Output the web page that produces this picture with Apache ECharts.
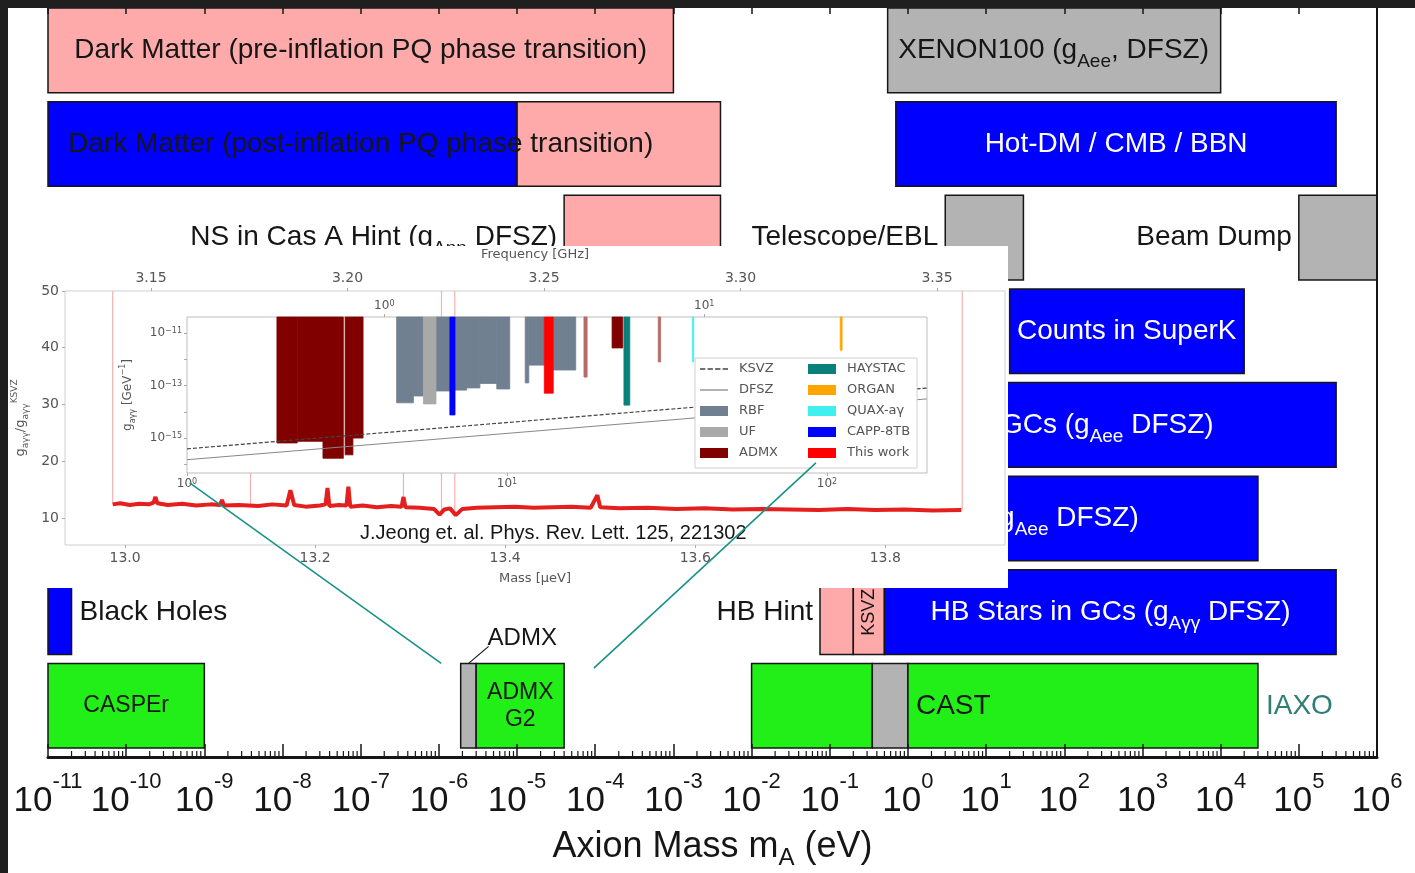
<!DOCTYPE html>
<html>
<head>
<meta charset="utf-8">
<title>Axion mass ranges</title>
<script src="https://cdn.jsdelivr.net/npm/echarts@6/dist/echarts.min.js"></script>
<style>
  html, body { margin: 0; padding: 0; background: #1f1f1f; }
  #chart { width: 1415px; height: 873px; }
</style>
</head>
<body>
<div id="chart"></div>
<script>
// ---------- main figure: axion mass ranges (eV), rows counted from the top ----------
const barStart = [1e-11, 0.55, 1e-11, 1e-5, 0.7, 4e-5, 3, 1e5, 20, 0.05, 1e-3, 1e-11, 0.075, 0.2, 0.5, 1e-11, 1.9e-6, 3e-6, 1e-2, 0.35, 1.0];
const barEnd   = [1e-3, 1e4, 1e-5, 4e-3, 3e5, 4e-3, 30, 1e6, 2e4, 3e5, 3e4, 2e-11, 0.2, 0.5, 3e5, 1e-9, 3e-6, 4e-5, 0.35, 1.0, 3e4];
const barRow   = [0, 0, 1, 1, 1, 2, 2, 2, 3, 4, 5, 6, 6, 6, 6, 7, 7, 7, 7, 7, 7];
const barKind  = ['pink', 'gray', 'blue', 'pink', 'blue', 'pink', 'gray', 'gray', 'blue', 'blue', 'blue',
                  'blue', 'pink', 'pink', 'blue', 'green', 'gray', 'green', 'green', 'gray', 'green'];

const labelText = [
  'Dark Matter (pre-inflation PQ phase transition)',
  'XENON100 (g{s|Aee}, DFSZ)',
  'Dark Matter (post-inflation PQ phase transition)',
  'Hot-DM / CMB / BBN',
  'NS in Cas A Hint (g{s|Ann} DFSZ)',
  'Telescope/EBL',
  'Beam Dump',
  'Counts in SuperK',
  'RGs in GCs (g{s|Aee} DFSZ)',
  'WD cooling hint (g{s|Aee} DFSZ)',
  'Black Holes',
  'HB Hint',
  'KSVZ',
  'HB Stars in GCs (g{s|Aγγ} DFSZ)',
  'CASPEr',
  'ADMX',
  'ADMX\nG2',
  'CAST',
  'IAXO'
];
const labelAt    = [1e-7, 73, 1e-7, 460, 4e-5, 3, 1e5, 630, 1e4, 1.1e3, 2e-11, 0.075, 0.32, 390, 1e-10, 2.4e-6, 1.1e-5, 1.0, 3e4];
const labelRow   = [0, 0, 1, 1, 2, 2, 2, 3, 4, 5, 6, 6, 6, 6, 7, 7, 7, 7, 7];
const labelAlign = ['center', 'center', 'center', 'center', 'right', 'right', 'right', 'center', 'right', 'right',
                    'left', 'right', 'vertical', 'center', 'small', 'leader', 'small', 'left', 'left'];
const labelTone  = ['dark', 'dark', 'dark', 'white', 'dark', 'dark', 'dark', 'white', 'white', 'white',
                    'dark', 'dark', 'dark', 'white', 'dark', 'dark', 'dark', 'dark', 'iaxo'];

// ---------- inset: J. Jeong et al. haloscope limit ----------
const MUEV_PER_GHZ = 4.135667;
const limitCurve = [
  [12.987, 12.4], [12.995, 12.6], [13.005, 12.3], [13.015, 12.5], [13.025, 12.4], [13.030, 12.7], [13.032, 13.7],
  [13.034, 12.6], [13.045, 12.3], [13.060, 12.5], [13.075, 12.2], [13.090, 12.4], [13.100, 12.3], [13.102, 13.2],
  [13.104, 12.2], [13.120, 12.3], [13.140, 12.1], [13.155, 12.4], [13.170, 12.2], [13.174, 14.9], [13.178, 12.3],
  [13.190, 12.0], [13.205, 12.2], [13.211, 12.4], [13.213, 15.3], [13.215, 12.1], [13.225, 12.3], [13.233, 12.2],
  [13.235, 15.5], [13.237, 12.0], [13.250, 12.2], [13.265, 11.9], [13.280, 12.1], [13.291, 12.0], [13.293, 13.7],
  [13.295, 11.9], [13.310, 11.8], [13.325, 11.6], [13.331, 10.6], [13.336, 11.5], [13.342, 11.7], [13.348, 10.5],
  [13.355, 11.6], [13.370, 11.8], [13.390, 11.9], [13.410, 12.0], [13.430, 11.8], [13.450, 11.9], [13.470, 12.0],
  [13.490, 11.8], [13.497, 14.0], [13.500, 11.9], [13.520, 11.7], [13.550, 11.8], [13.580, 11.6], [13.610, 11.7],
  [13.640, 11.5], [13.670, 11.6], [13.700, 11.5], [13.730, 11.4], [13.760, 11.6], [13.790, 11.4], [13.820, 11.5],
  [13.850, 11.3], [13.880, 11.4]
];
// unscanned / excluded steps drawn as faint verticals: [mass, from, to]
const gapLines = [[12.987, 12.4, 50], [13.132, 12.2, 18.5], [13.293, 12.0, 18.5], [13.333, 10.6, 50], [13.347, 10.5, 50], [13.881, 11.4, 50]];

// nested log-log panel: [mass start (μeV), mass end, g_aγγ limit (GeV^-1)]
const rbfRegions   = [[4.52, 5.10, 2.2e-14], [5.10, 5.48, 4.0e-14], [6.0, 6.63, 6.2e-14], [6.88, 7.48, 6.7e-14],
                      [7.48, 8.23, 8.1e-14], [8.23, 9.29, 1.2e-13], [9.29, 10.2, 7.4e-14], [11.4, 11.7, 1.26e-13],
                      [11.7, 13.08, 6.0e-13], [13.95, 16.4, 3.9e-13]];
const ufRegions    = [[5.48, 6.0, 2.0e-14]];
const admxRegions  = [[1.91, 2.21, 6.5e-16], [2.21, 2.66, 7.5e-16], [2.66, 3.08, 1.7e-16], [3.12, 3.30, 2.3e-16],
                      [3.30, 3.55, 1.0e-15], [21.3, 23.0, 2.7e-12]];
const admxFaintRegions = [[17.4, 17.8, 2.1e-13], [29.7, 30.2, 7.9e-13]];
const haystacRegions = [[23.2, 24.2, 1.8e-14]];
const organRegions = [[110, 111.5, 2.2e-12]];
const quaxRegions  = [[38.0, 38.3, 8e-13]];
const cappRegions  = [[6.63, 6.88, 7.6e-15]];
const thisWorkRegions = [[13.08, 13.95, 5.1e-14]];
const ksvzLine = [[1, 3.9e-16], [205, 8.0e-14]];
const dfszLine = [[1, 1.5e-16], [205, 3.1e-14]];

// zoom connectors: main-figure point (eV, row units) -> inset point (μeV, ratio)
const linkMain  = [[1.07e-6, 1.0], [9.6e-5, 0.95]];
const linkInset = [[13.068, 16.2], [13.727, 19.7]];

const FONT = "'Liberation Sans', Arial, sans-serif";
const MPL = "'DejaVu Sans', sans-serif";
const INK = '#161616';
const kindColor = {pink: '#ffaaaa', blue: '#0000ff', gray: '#b3b3b3', green: '#22ee18'};
const toneColor = {dark: INK, white: '#ffffff', iaxo: '#2f7e76'};
const BAR_LOW = 0.095, BAR_MID = 0.547;
const NEST_TOP = -10.39, NEST_BOTTOM = -16.33;
const lg = Math.log10;

// minor tick marks of the logarithmic mass axis (2..9 within each decade)
const minorTicks = [];
for (let e = -11; e < 6; e++) {
  for (let k = 2; k <= 9; k++) minorTicks.push([lg(k) + e, 0]);
}

const RICH = {s: {fontSize: 19, lineHeight: 19, verticalAlign: 'bottom', fontFamily: FONT}};

function renderBar(params, api) {
  const i = params.dataIndex;
  const v = api.value(2);
  const a = api.coord([api.value(0), v + 1]);
  const b = api.coord([api.value(1), v + BAR_LOW]);
  return {
    type: 'rect',
    shape: {x: a[0], y: a[1], width: b[0] - a[0], height: b[1] - a[1]},
    style: {fill: kindColor[barKind[i]], stroke: INK, lineWidth: 1.5}
  };
}

function renderLabel(params, api) {
  const i = params.dataIndex;
  const mode = labelAlign[i];
  const pt = api.coord([api.value(0), api.value(1)]);
  const style = {
    text: labelText[i], fill: toneColor[labelTone[i]], fontFamily: FONT,
    fontSize: 28, lineHeight: 42, rich: RICH, align: 'center', verticalAlign: 'middle'
  };
  if (mode === 'vertical') {
    style.fontSize = 18; style.lineHeight = 20;
    return {type: 'text', x: pt[0], y: pt[1], rotation: Math.PI / 2, style: style};
  }
  if (mode === 'leader') {
    const top = api.coord([api.value(0), 7 - labelRow[i] + 1]);
    style.fontSize = 24; style.lineHeight = 28; style.align = 'left';
    return {
      type: 'group',
      children: [
        {type: 'line', shape: {x1: top[0], y1: top[1], x2: top[0] + 20, y2: top[1] - 17}, style: {stroke: INK, lineWidth: 1.2}},
        {type: 'text', x: top[0] + 19, y: top[1] - 25, style: style}
      ]
    };
  }
  if (mode === 'small') { style.fontSize = 23; style.lineHeight = 27; }
  if (mode === 'right') { style.align = 'right'; pt[0] -= 7; }
  if (mode === 'left') { style.align = 'left'; pt[0] += 8; }
  return {type: 'text', x: pt[0], y: pt[1], style: style};
}

function renderMinorTick(params, api) {
  const p = api.coord([api.value(0), 0]);
  return {type: 'line', shape: {x1: p[0], y1: p[1], x2: p[0], y2: p[1] - 6}, style: {stroke: INK, lineWidth: 1.2}};
}

function renderGap(params, api) {
  const a = api.coord([api.value(0), api.value(1)]);
  const b = api.coord([api.value(0), api.value(2)]);
  return {type: 'line', shape: {x1: a[0], y1: a[1], x2: b[0], y2: b[1]}, style: {stroke: '#f3b0b0', lineWidth: 1.2}};
}

function renderRegion(params, api) {
  const a = api.coord([api.value(0), NEST_TOP]);
  const b = api.coord([api.value(1), lg(api.value(2))]);
  const c = api.visual('color');
  return {
    type: 'rect',
    shape: {x: a[0], y: a[1], width: Math.max(b[0] - a[0], 1.2), height: b[1] - a[1]},
    style: {fill: c, stroke: c, lineWidth: 0.8}
  };
}

function regionSeries(name, color, data) {
  return {
    name: name, type: 'custom', xAxisIndex: 4, yAxisIndex: 2, zlevel: 1, z: 6,
    itemStyle: {color: color}, renderItem: renderRegion, encode: {x: [0, 1], y: 2}, data: data
  };
}

function decadeLabel(v) {
  return '{b|10}{e|' + v + '}';
}

function smallDecade(v) {
  return '10{p|' + Math.round(lg(v)) + '}';
}

const grey = '#555555';
const insetAxisBase = {
  zlevel: 1, z: 4, splitLine: {show: false},
  axisLine: {show: false, onZero: false},
  axisTick: {show: true, length: 3, lineStyle: {color: '#aaa'}},
  nameTextStyle: {color: grey, fontSize: 13, fontFamily: MPL}
};
const dashIcon = 'path://M0,0h5v1.6h-5zM7,0h5v1.6h-5zM14,0h5v1.6h-5zM21,0h5v1.6h-5z';
const lineIcon = 'path://M0,0h26v1.2h-26z';

const chart = echarts.init(document.getElementById('chart'));

const option = {
  animation: false,
  backgroundColor: '#ffffff',
  textStyle: {fontFamily: FONT},
  grid: [
    {left: 48, right: 38, top: 8, bottom: 116, outerBoundsMode: 'none'},
    {left: 65, right: 410, top: 291, bottom: 328, show: true, borderColor: '#cfcfcf', borderWidth: 1,
     backgroundColor: 'transparent', zlevel: 1, z: 1, outerBoundsMode: 'none'},
    {left: 187, right: 488, top: 317, bottom: 400, show: true, borderColor: '#bdbdbd', borderWidth: 1,
     backgroundColor: '#ffffff', zlevel: 1, z: 5, outerBoundsMode: 'none'}
  ],
  xAxis: [
    {
      type: 'value', gridIndex: 0, min: -11, max: 6, interval: 1, z: 5,
      axisLine: {onZero: false, lineStyle: {color: INK, width: 3}},
      axisTick: {inside: true, length: 13, lineStyle: {color: INK, width: 1.5}},
      splitLine: {show: false},
      axisLabel: {
        margin: 14, color: INK, formatter: decadeLabel,
        rich: {
          b: {fontSize: 35, lineHeight: 48, verticalAlign: 'bottom', fontFamily: FONT, color: INK},
          e: {fontSize: 22, lineHeight: 22, verticalAlign: 'top', fontFamily: FONT, color: INK}
        }
      },
      name: 'Axion Mass m{s|A} (eV)', nameLocation: 'middle', nameGap: 55,
      nameTextStyle: {
        fontSize: 36, lineHeight: 46, color: INK, fontFamily: FONT,
        rich: {s: {fontSize: 24, lineHeight: 24, verticalAlign: 'bottom', fontFamily: FONT, color: INK}}
      }
    },
    {
      type: 'value', gridIndex: 0, position: 'top', min: -11, max: 6, interval: 1, z: 5,
      axisLine: {show: false, onZero: false}, axisLabel: {show: false}, splitLine: {show: false},
      axisTick: {inside: true, length: 6, lineStyle: {color: INK, width: 1.5}}
    },
    Object.assign({}, insetAxisBase, {
      type: 'value', gridIndex: 1, min: 12.9368, max: 13.926,
      axisLabel: {color: grey, fontSize: 14, fontFamily: MPL, margin: 6, showMinLabel: false, showMaxLabel: false,
                  formatter: v => v.toFixed(1)},
      name: 'Mass [μeV]', nameLocation: 'middle', nameGap: 27
    }),
    Object.assign({}, insetAxisBase, {
      type: 'value', gridIndex: 1, position: 'top', min: 12.9368 / MUEV_PER_GHZ, max: 13.926 / MUEV_PER_GHZ,
      axisLabel: {color: grey, fontSize: 14, fontFamily: MPL, margin: 6, showMinLabel: false, showMaxLabel: false,
                  formatter: v => v.toFixed(2)},
      name: 'Frequency [GHz]', nameLocation: 'middle', nameGap: 30
    }),
    Object.assign({}, insetAxisBase, {
      type: 'log', gridIndex: 2, min: 1, max: 205.4, z: 6,
      axisLabel: {color: grey, fontSize: 12, fontFamily: MPL, margin: 5, showMaxLabel: false, formatter: smallDecade,
                  rich: {p: {fontSize: 8, verticalAlign: 'top', lineHeight: 8, color: grey}}}
    }),
    Object.assign({}, insetAxisBase, {
      type: 'log', gridIndex: 2, position: 'top', min: 1 / MUEV_PER_GHZ, max: 205.4 / MUEV_PER_GHZ, z: 6,
      axisLabel: {color: grey, fontSize: 12, fontFamily: MPL, margin: 5, showMinLabel: false, showMaxLabel: false,
                  formatter: smallDecade, rich: {p: {fontSize: 8, verticalAlign: 'top', lineHeight: 8, color: grey}}}
    })
  ],
  yAxis: [
    {
      type: 'value', gridIndex: 0, min: 0, max: 8, position: 'right', z: 5,
      axisLine: {show: true, onZero: false, lineStyle: {color: INK, width: 2}},
      axisTick: {show: false}, axisLabel: {show: false}, splitLine: {show: false}
    },
    Object.assign({}, insetAxisBase, {
      type: 'value', gridIndex: 1, min: 5.24, max: 50,
      axisLabel: {color: grey, fontSize: 14, fontFamily: MPL, margin: 6, showMinLabel: false},
      name: 'g{s|aγγ}/g{s|aγγ}{u|KSVZ}', nameLocation: 'middle', nameGap: 30,
      nameTextStyle: {
        color: grey, fontSize: 13, lineHeight: 20, fontFamily: MPL,
        rich: {
          s: {fontSize: 9, lineHeight: 9, verticalAlign: 'bottom', color: grey},
          u: {fontSize: 9, lineHeight: 9, verticalAlign: 'top', color: grey}
        }
      }
    }),
    Object.assign({}, insetAxisBase, {
      type: 'value', gridIndex: 2, min: NEST_BOTTOM, max: NEST_TOP, z: 6,
      axisLabel: {
        color: grey, fontSize: 12, fontFamily: MPL, margin: 5, showMinLabel: false, showMaxLabel: false,
        formatter: function (v) {
          const e = Math.round(v);
          if (Math.abs(v - e) > 1e-6 || e % 2 === 0) return '';
          return '10{p|−' + Math.abs(e) + '}';
        },
        rich: {p: {fontSize: 8, verticalAlign: 'top', lineHeight: 8, color: grey}}
      },
      name: 'g{s|aγγ} [GeV{p|−1}]', nameLocation: 'middle', nameGap: 50,
      nameTextStyle: {
        color: grey, fontSize: 12, lineHeight: 18, fontFamily: MPL,
        rich: {
          s: {fontSize: 8, lineHeight: 8, verticalAlign: 'bottom', color: grey},
          p: {fontSize: 8, lineHeight: 8, verticalAlign: 'top', color: grey}
        }
      }
    })
  ],
  legend: [
    {
      data: [{name: 'KSVZ', icon: dashIcon}, {name: 'DFSZ', icon: lineIcon},
             {name: 'RBF', icon: 'rect'}, {name: 'UF', icon: 'rect'}, {name: 'ADMX', icon: 'rect'}],
      orient: 'vertical', left: 700, top: 362, padding: 0, itemGap: 7, itemWidth: 28, itemHeight: 10,
      selectedMode: false, zlevel: 1, z: 12,
      textStyle: {color: grey, fontSize: 13, lineHeight: 14, fontFamily: MPL, padding: [0, 0, 0, 6]}
    },
    {
      data: ['HAYSTAC', 'ORGAN', 'QUAX-aγ', 'CAPP-8TB', 'This work'].map(n => ({name: n, icon: 'rect'})),
      orient: 'vertical', left: 808, top: 362, padding: 0, itemGap: 7, itemWidth: 28, itemHeight: 10,
      selectedMode: false, zlevel: 1, z: 12,
      textStyle: {color: grey, fontSize: 13, lineHeight: 14, fontFamily: MPL, padding: [0, 0, 0, 6]}
    }
  ],
  title: {
    text: 'J.Jeong et. al. Phys. Rev. Lett. 125, 221302', left: 360, top: 523, padding: 0,
    zlevel: 1, z: 12,
    textStyle: {fontSize: 20, fontWeight: 'normal', color: INK, fontFamily: FONT}
  },
  graphic: [
    {id: 'insetBg', type: 'rect', zlevel: 1, z: 0, shape: {x: 8, y: 246, width: 1000, height: 342}, style: {fill: '#ffffff'}},
    {id: 'legendBox', type: 'rect', zlevel: 1, z: 10, shape: {x: 695, y: 358, width: 222, height: 110},
     style: {fill: '#ffffff', stroke: '#d0d0d0', lineWidth: 1}},
    {id: 'bandTop', type: 'rect', zlevel: 3, z: 0, shape: {x: 0, y: 0, width: 1415, height: 8}, style: {fill: '#1f1f1f'}},
    {id: 'bandLeft', type: 'rect', zlevel: 3, z: 0, shape: {x: 0, y: 0, width: 8, height: 873}, style: {fill: '#1f1f1f'}}
  ],
  series: [
    {
      name: 'ranges', type: 'custom', xAxisIndex: 0, yAxisIndex: 0, z: 2,
      renderItem: renderBar, encode: {x: [0, 1], y: 2},
      data: barStart.map((s, i) => [lg(s), lg(barEnd[i]), 7 - barRow[i]])
    },
    {
      name: 'range labels', type: 'custom', xAxisIndex: 0, yAxisIndex: 0, z: 3,
      renderItem: renderLabel, encode: {x: 0, y: 1},
      data: labelAt.map((x, i) => [lg(x), 7 - labelRow[i] + BAR_MID])
    },
    {
      name: 'minor ticks', type: 'custom', xAxisIndex: 0, yAxisIndex: 0, z: 6,
      renderItem: renderMinorTick, encode: {x: 0, y: 1}, data: minorTicks
    },
    {
      name: 'gaps', type: 'custom', xAxisIndex: 2, yAxisIndex: 1, zlevel: 1, z: 2,
      renderItem: renderGap, encode: {x: 0, y: [1, 2]}, data: gapLines
    },
    {
      name: 'limit', type: 'line', xAxisIndex: 2, yAxisIndex: 1, zlevel: 1, z: 3,
      symbol: 'none', data: limitCurve, lineStyle: {color: '#e51e1e', width: 4}
    },
    {
      name: 'KSVZ', type: 'line', xAxisIndex: 4, yAxisIndex: 2, zlevel: 1, z: 7, symbol: 'none',
      data: ksvzLine.map(p => [p[0], lg(p[1])]),
      itemStyle: {color: '#444'}, lineStyle: {color: '#444', width: 1.2, type: [4, 2]}
    },
    {
      name: 'DFSZ', type: 'line', xAxisIndex: 4, yAxisIndex: 2, zlevel: 1, z: 7, symbol: 'none',
      data: dfszLine.map(p => [p[0], lg(p[1])]),
      itemStyle: {color: '#888'}, lineStyle: {color: '#888', width: 1}
    },
    regionSeries('RBF', '#708090', rbfRegions),
    regionSeries('UF', '#a9a9a9', ufRegions),
    regionSeries('ADMX', '#800000', admxRegions),
    regionSeries('ADMX faint', '#b86a6a', admxFaintRegions),
    regionSeries('HAYSTAC', '#0a807a', haystacRegions),
    regionSeries('ORGAN', '#ffa500', organRegions),
    regionSeries('QUAX-aγ', '#3ff0ee', quaxRegions),
    regionSeries('CAPP-8TB', '#0000ff', cappRegions),
    regionSeries('This work', '#ff0000', thisWorkRegions)
  ]
};

chart.setOption(option);

// connectors from the ADMX G2 window of the main figure to the inset
const links = linkMain.map(function (m, i) {
  const a = chart.convertToPixel({xAxisIndex: 0, yAxisIndex: 0}, [lg(m[0]), m[1]]);
  const b = chart.convertToPixel({xAxisIndex: 2, yAxisIndex: 1}, linkInset[i]);
  return {
    id: 'link' + i, type: 'line', zlevel: 2, z: 0,
    shape: {x1: a[0], y1: a[1], x2: b[0], y2: b[1]},
    style: {stroke: '#17928a', lineWidth: 1.6}
  };
});
chart.setOption({graphic: links});
</script>
</body>
</html>
